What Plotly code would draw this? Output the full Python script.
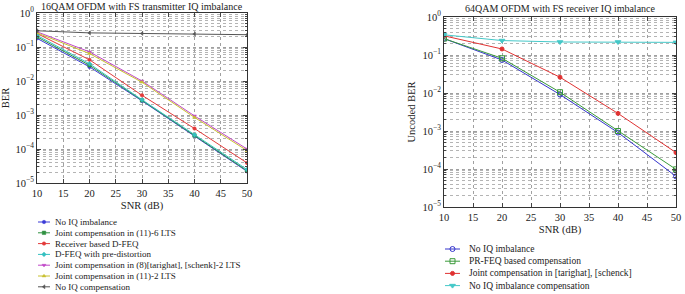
import plotly.graph_objects as go

W, H = 685, 294

# ---------------- data ----------------
snr = [10, 20, 30, 40, 50]

left_title = "16QAM OFDM with FS transmitter IQ imbalance"
left_names = [
    "No IQ imbalance",
    "Joint compensation in (11)-6 LTS",
    "Receiver based D-FEQ",
    "D-FEQ with pre-distortion",
    "Joint compensation in (8)[tarighat], [schenk]-2 LTS",
    "Joint compensation in (11)-2 LTS",
    "No IQ compensation",
]
left_no_iq_imb = [0.18, 0.026, 0.0026, 0.00024, 2.2e-5]
left_joint_6lts = [0.20, 0.029, 0.0027, 0.00025, 2.3e-5]
left_rx_dfeq = [0.25, 0.042, 0.0038, 0.00040, 3.9e-5]
left_dfeq_pd = [0.22, 0.032, 0.0028, 0.00026, 2.5e-5]
left_joint_8 = [0.28, 0.072, 0.0100, 0.00094, 1.0e-4]
left_joint_11_2 = [0.26, 0.064, 0.0092, 0.00085, 9.0e-5]
left_no_comp = [0.30, 0.26, 0.25, 0.24, 0.23]

right_title = "64QAM OFDM with FS receiver IQ imbalance"
right_names = [
    "No IQ imbalance",
    "PR-FEQ based compensation",
    "Joint compensation in [tarighat], [schenck]",
    "No IQ imbalance compensation",
]
right_no_iq_imb = [0.27, 0.074, 0.0091, 0.00091, 6.4e-5]
right_prfeq = [0.27, 0.082, 0.0105, 0.0010, 9.8e-5]
right_joint = [0.32, 0.144, 0.026, 0.0029, 2.7e-4]
right_no_comp = [0.34, 0.24, 0.22, 0.22, 0.215]

x_ticks = [10, 15, 20, 25, 30, 35, 40, 45, 50]
y_ticks = [1e-5, 1e-4, 1e-3, 1e-2, 1e-1, 1]
y_ticktext = ["10<sup>−5</sup>", "10<sup>−4</sup>", "10<sup>−3</sup>",
              "10<sup>−2</sup>", "10<sup>−1</sup>", "10<sup>0</sup>"]
y_minor = [m * 10.0 ** e for e in range(-5, 0) for m in range(2, 10)]

# ---------------- styles ----------------
left_series = [left_no_iq_imb, left_joint_6lts, left_rx_dfeq, left_dfeq_pd,
               left_joint_8, left_joint_11_2, left_no_comp]
left_colors = ["#3b3bd6", "#2f9040", "#e23a3a", "#35c0c0", "#c048c8", "#c8c030", "#555555"]
left_symbols = ["circle", "square", "circle", "diamond", "triangle-down",
                "triangle-up", "triangle-left"]

right_series = [right_no_iq_imb, right_prfeq, right_joint, right_no_comp]
right_colors = ["#3535cc", "#3a9a3a", "#e03232", "#45c8c8"]
right_symbols = ["circle-open", "square-open", "circle", "triangle-down"]

FONT = "Liberation Serif"

fig = go.Figure()

for ys, c, s, n in zip(left_series, left_colors, left_symbols, left_names):
    fig.add_trace(go.Scatter(x=snr, y=ys, mode="lines+markers", name=n,
                             line=dict(color=c, width=1),
                             marker=dict(symbol=s, size=3.5, color=c, line=dict(color=c, width=0.5)),
                             xaxis="x", yaxis="y", showlegend=False))

for ys, c, s, n in zip(right_series, right_colors, right_symbols, right_names):
    fig.add_trace(go.Scatter(x=snr, y=ys, mode="lines+markers", name=n,
                             line=dict(color=c, width=1),
                             marker=dict(symbol=s, size=4 if s == "circle" else 5, color=c,
                                         line=dict(color=c, width=1)),
                             xaxis="x2", yaxis="y2", showlegend=False))

# ---------------- custom compact legends (pixel overlay axis) ----------------
left_leg_y0, left_leg_dy = 222, 10.8
right_leg_y0, right_leg_dy = 249, 12.2
for i, (c, s, n) in enumerate(zip(left_colors, left_symbols, left_names)):
    yy = left_leg_y0 + i * left_leg_dy
    fig.add_trace(go.Scatter(x=[38, 50], y=[yy, yy], mode="lines",
                             line=dict(color=c, width=1), xaxis="x3", yaxis="y3",
                             showlegend=False, hoverinfo="skip"))
    fig.add_trace(go.Scatter(x=[44], y=[yy], mode="markers",
                             marker=dict(symbol=s, size=3.5, color=c, line=dict(color=c, width=0.5)),
                             xaxis="x3", yaxis="y3", showlegend=False, hoverinfo="skip"))
    fig.add_annotation(x=53 / W, y=1 - yy / H, xref="paper", yref="paper", text=n,
                       showarrow=False, xanchor="left", yanchor="middle",
                       font=dict(family=FONT, size=9, color="#222"))

for i, (c, s, n) in enumerate(zip(right_colors, right_symbols, right_names)):
    yy = right_leg_y0 + i * right_leg_dy
    fig.add_trace(go.Scatter(x=[445, 460], y=[yy, yy], mode="lines",
                             line=dict(color=c, width=1), xaxis="x3", yaxis="y3",
                             showlegend=False, hoverinfo="skip"))
    fig.add_trace(go.Scatter(x=[452.5], y=[yy], mode="markers",
                             marker=dict(symbol=s, size=4 if s == "circle" else 5, color=c,
                                         line=dict(color=c, width=1)),
                             xaxis="x3", yaxis="y3", showlegend=False, hoverinfo="skip"))
    fig.add_annotation(x=467 / W, y=1 - yy / H, xref="paper", yref="paper", text=n,
                       showarrow=False, xanchor="left", yanchor="middle",
                       font=dict(family=FONT, size=9.5, color="#222"))

# ---------------- axes ----------------
def xaxis(domain, anchor):
    return dict(domain=domain, anchor=anchor, range=[10, 50], tickmode="array",
                tickvals=x_ticks, ticks="inside", ticklen=4, mirror="allticks",
                showline=True, linecolor="#333", linewidth=1, automargin=False,
                showgrid=True, gridcolor="#a0a0a0", griddash="dot", gridwidth=1,
                tickfont=dict(family=FONT, size=10.5, color="#222"), zeroline=False,
                title=dict(text="SNR (dB)", font=dict(family=FONT, size=10.5, color="#222"),
                           standoff=4))

def yaxis(domain, anchor, title):
    return dict(domain=domain, anchor=anchor, type="log", range=[-5, 0],
                tickmode="array", tickvals=y_ticks, ticktext=y_ticktext,
                ticks="inside", ticklen=4, mirror="allticks",
                showline=True, linecolor="#333", linewidth=1, automargin=False,
                showgrid=True, gridcolor="#a0a0a0", griddash="dot", gridwidth=1,
                minor=dict(tickmode="array", tickvals=y_minor, ticks="inside", ticklen=2,
                           showgrid=True, gridcolor="#b4b4b4", griddash="dot", gridwidth=1),
                tickfont=dict(family=FONT, size=10.5, color="#222"), zeroline=False,
                title=dict(text=title, font=dict(family=FONT, size=10.5, color="#222"),
                           standoff=4))

fig.update_layout(
    width=W, height=H,
    margin=dict(l=0, r=0, t=0, b=0, autoexpand=False),
    paper_bgcolor="white", plot_bgcolor="rgba(0,0,0,0)",
    xaxis=xaxis([37 / W, 247 / W], "y"),
    yaxis=yaxis([1 - 183 / H, 1 - 13 / H], "x", "BER"),
    xaxis2=xaxis([444 / W, 676 / W], "y2"),
    yaxis2=yaxis([1 - 207 / H, 1 - 17 / H], "x2", "Uncoded BER"),
    xaxis3=dict(domain=[0, 1], anchor="y3", range=[0, W], visible=False, fixedrange=True),
    yaxis3=dict(domain=[0, 1], anchor="x3", range=[H, 0], visible=False, fixedrange=True),
    showlegend=False,
)

fig.add_annotation(x=142 / W, y=1 - 6.5 / H, xref="paper", yref="paper", text=left_title,
                   showarrow=False, xanchor="center", yanchor="middle",
                   font=dict(family=FONT, size=10, color="#222"))
fig.add_annotation(x=560 / W, y=1 - 8.5 / H, xref="paper", yref="paper", text=right_title,
                   showarrow=False, xanchor="center", yanchor="middle",
                   font=dict(family=FONT, size=10, color="#222"))

fig.write_html("out.html", config={"displayModeBar": False},
               post_script="document.body.style.margin='0';document.body.style.padding='0';")
